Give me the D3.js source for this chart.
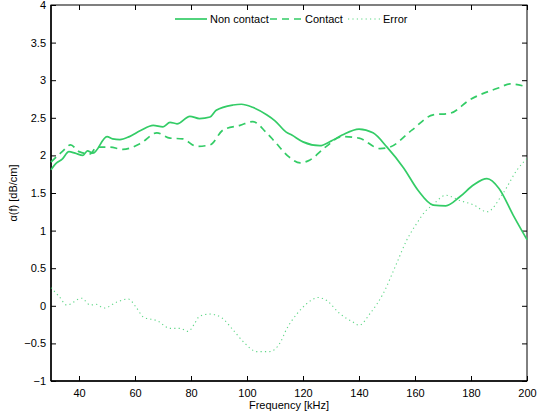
<!DOCTYPE html>
<html>
<head>
<meta charset="utf-8">
<script src="https://cdn.jsdelivr.net/npm/d3@7"></script>
<style>
  body { margin: 0; background: #fff; }
  svg { font-family: "Liberation Sans", Arial, sans-serif; }
</style>
</head>
<body>
<svg width="540" height="416"></svg>
<script>
// 數據
const nonContactF = [30, 32, 34, 36.4, 38.6, 41.4, 43, 45, 50, 52, 54.6, 58, 62, 66.5, 70, 72.5, 75, 79.6, 83, 86.8, 89, 95, 98, 102, 107, 110, 114, 116, 120, 126, 130, 134, 140, 145, 150, 156, 161, 166.5, 171, 176, 181, 185.7, 190, 195, 200];
const nonContactV = [1.81, 1.90, 1.95, 2.05, 2.03, 2.00, 2.06, 2.03, 2.25, 2.22, 2.21, 2.25, 2.33, 2.40, 2.38, 2.44, 2.42, 2.52, 2.49, 2.51, 2.60, 2.67, 2.68, 2.64, 2.54, 2.46, 2.31, 2.27, 2.18, 2.13, 2.19, 2.27, 2.35, 2.30, 2.11, 1.83, 1.54, 1.34, 1.33, 1.45, 1.61, 1.69, 1.56, 1.21, 0.88];

const contactF = [30, 34, 37, 40, 44, 46.3, 51, 55.7, 62, 67.8, 72.5, 77, 82, 86.8, 91.5, 97.5, 102, 107, 110, 115, 119, 122.5, 128, 134, 140, 147.5, 151, 159, 166.5, 172.5, 179.6, 190, 194, 200];
const contactV = [1.91, 2.05, 2.14, 2.05, 2.02, 2.11, 2.11, 2.08, 2.16, 2.30, 2.23, 2.22, 2.12, 2.14, 2.34, 2.40, 2.45, 2.30, 2.18, 1.98, 1.90, 1.94, 2.11, 2.25, 2.23, 2.09, 2.11, 2.34, 2.54, 2.56, 2.74, 2.90, 2.95, 2.91];

const errorF = [30, 33, 35.6, 41, 44, 46, 49, 53.5, 57.6, 60.6, 63, 68, 72.5, 76, 79, 81.4, 83, 86.8, 91, 95, 99, 103.5, 108, 112, 114, 118, 121.4, 125.4, 128.5, 133, 138, 140, 144, 148.6, 153.5, 157, 160.7, 164, 166, 171, 176, 181, 185.7, 191.5, 196.5, 200];
const errorV = [0.24, 0.12, 0.01, 0.10, 0.01, 0.02, -0.03, 0.05, 0.09, -0.03, -0.15, -0.20, -0.30, -0.30, -0.34, -0.23, -0.14, -0.11, -0.16, -0.32, -0.49, -0.61, -0.61, -0.48, -0.32, -0.10, 0.03, 0.11, 0.07, -0.10, -0.22, -0.26, -0.10, 0.16, 0.57, 0.87, 1.10, 1.27, 1.33, 1.47, 1.40, 1.34, 1.25, 1.50, 1.81, 1.96];

const xTicks = [40, 60, 80, 100, 120, 140, 160, 180, 200];
const yTicks = [-1, -0.5, 0, 0.5, 1, 1.5, 2, 2.5, 3, 3.5, 4];
const seriesNames = ["Non contact", "Contact", "Error"];

const margin = { top: 5, right: 13, bottom: 35, left: 51 };
const width = 540 - margin.left - margin.right;
const height = 416 - margin.top - margin.bottom;
const green = "#33cc66";

const svg = d3.select("svg")
  .append("g")
  .attr("transform", `translate(${margin.left}, ${margin.top})`);

const x = d3.scaleLinear().domain([30, 200]).range([0, width]);
const y = d3.scaleLinear().domain([-1, 4]).range([height, 0]);

const fmt = d => (d < 0 ? "\u2212" + Math.abs(d) : String(d));

// 坐標軸（刻度向內）
const styleAxis = g => {
  g.select(".domain").remove();
  g.selectAll("line").attr("stroke", "#000");
  g.selectAll("text").attr("fill", "#000").style("font-size", "11px");
};

svg.append("g")
  .attr("transform", `translate(0, ${height})`)
  .call(d3.axisBottom(x).tickValues(xTicks).tickSize(-5).tickPadding(8).tickFormat(fmt))
  .call(styleAxis);

svg.append("g")
  .call(d3.axisTop(x).tickValues(xTicks).tickSize(-5).tickFormat(""))
  .call(styleAxis);

svg.append("g")
  .call(d3.axisLeft(y).tickValues(yTicks).tickSize(-5).tickPadding(5).tickFormat(fmt))
  .call(styleAxis);

svg.append("g")
  .attr("transform", `translate(${width}, 0)`)
  .call(d3.axisRight(y).tickValues(yTicks).tickSize(-5).tickFormat(""))
  .call(styleAxis);

svg.append("rect")
  .attr("width", width)
  .attr("height", height)
  .attr("fill", "none")
  .attr("stroke", "#000")
  .attr("stroke-width", 1);

svg.append("line").attr("x1", 0).attr("x2", 0).attr("y1", 0).attr("y2", height)
  .attr("stroke", "#000").attr("stroke-width", 1.5);
svg.append("line").attr("x1", 0).attr("x2", width).attr("y1", height).attr("y2", height)
  .attr("stroke", "#000").attr("stroke-width", 1.5);

// 曲線
const line = d3.line().x(d => x(d[0])).y(d => y(d[1])).curve(d3.curveMonotoneX);
const series = [
  { name: seriesNames[0], data: d3.zip(nonContactF, nonContactV), dash: null, w: 1.7, op: 1 },
  { name: seriesNames[1], data: d3.zip(contactF, contactV), dash: "7,5", w: 1.7, op: 1 },
  { name: seriesNames[2], data: d3.zip(errorF, errorV), dash: "1.2,3.2", w: 1.1, op: 0.8 }
];

series.forEach(s => {
  svg.append("path")
    .datum(s.data)
    .attr("d", line)
    .attr("fill", "none")
    .attr("stroke", green)
    .attr("stroke-width", s.w)
    .attr("stroke-opacity", s.op)
    .attr("stroke-dasharray", s.dash);
});

// 圖例
const legendX = [124, 219, 297];
const legend = svg.append("g").attr("transform", "translate(0, 14)");
series.forEach((s, i) => {
  legend.append("line")
    .attr("x1", legendX[i]).attr("x2", legendX[i] + 32)
    .attr("y1", 0).attr("y2", 0)
    .attr("stroke", green)
    .attr("stroke-width", s.w)
    .attr("stroke-opacity", s.op)
    .attr("stroke-dasharray", s.dash);
  legend.append("text")
    .attr("x", legendX[i] + 35)
    .attr("y", 4)
    .style("font-size", "11px")
    .text(s.name);
});

// 軸標題
svg.append("text")
  .attr("x", width / 2)
  .attr("y", height + 28)
  .attr("text-anchor", "middle")
  .style("font-size", "11px")
  .text("Frequency [kHz]");

svg.append("text")
  .attr("transform", `translate(-34, ${height / 2}) rotate(-90)`)
  .attr("text-anchor", "middle")
  .style("font-size", "11px")
  .text("\u03b1(f) [dB/cm]");
</script>
</body>
</html>
